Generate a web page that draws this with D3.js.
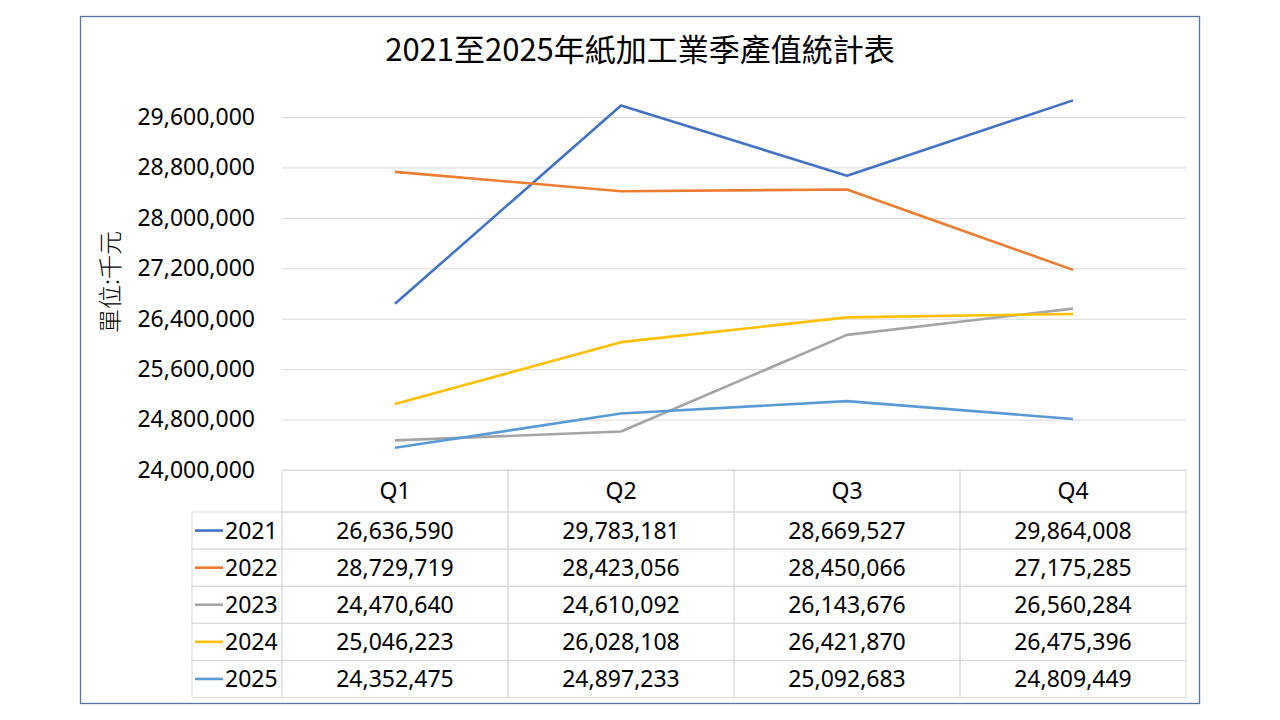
<!DOCTYPE html>
<html>
<head>
<meta charset="utf-8">
<script src="https://cdn.jsdelivr.net/npm/d3@7"></script>
<style>
  body { margin: 0; background: #fff; }
  text { font-family: "Noto Sans", "Noto Sans CJK TC", sans-serif; fill: #000; }
  .cjk { font-family: "Noto Sans CJK TC", "Noto Sans", sans-serif; }
</style>
</head>
<body>
<svg id="chart"></svg>
<script>
// chart data
var quarters = ["Q1", "Q2", "Q3", "Q4"]
var years = ["2021", "2022", "2023", "2024", "2025"]
var v2021 = [26636590, 29783181, 28669527, 29864008]
var v2022 = [28729719, 28423056, 28450066, 27175285]
var v2023 = [24470640, 24610092, 26143676, 26560284]
var v2024 = [25046223, 26028108, 26421870, 26475396]
var v2025 = [24352475, 24897233, 25092683, 24809449]
var yTicks = [24000000, 24800000, 25600000, 26400000, 27200000, 28000000, 28800000, 29600000]
var colors = ["#4472C4", "#ED7D31", "#A5A5A5", "#FFC000", "#5B9BD5"]

var series = [v2021, v2022, v2023, v2024, v2025].map(function(vals, i) {
    return {year: years[i], values: vals, color: colors[i]}
})

var screen = {width: 1280, height: 720}
var plot = {left: 282, right: 1186, top: 66.6, bottom: 470}
var table = {legendLeft: 192, headerH: 42, rowH: 37.1}

var svg = d3.select("#chart")
    .attr("width", screen.width)
    .attr("height", screen.height)

// outer frame
svg.append("rect")
    .attr("x", 80.5).attr("y", 16.5)
    .attr("width", 1119).attr("height", 687)
    .attr("fill", "#fff")
    .attr("stroke", "#5677a6")
    .attr("stroke-width", 1.3)

var xScale = d3.scaleBand()
    .domain(quarters)
    .range([plot.left, plot.right])
    .padding(0)

var yScale = d3.scaleLinear()
    .domain([24000000, 30400000])
    .range([plot.bottom, plot.top])

var fmt = d3.format(",")

// gridlines + y labels
var yAxis = d3.axisLeft(yScale)
    .tickValues(yTicks)
    .tickSize(-(plot.right - plot.left))
    .tickFormat(fmt)
    .tickPadding(27)

var ax = svg.append("g")
    .attr("transform", "translate(" + plot.left + ",0)")
    .call(yAxis)
ax.select(".domain").remove()
ax.selectAll(".tick line").attr("stroke", "#d9d9d9").attr("stroke-width", 1)
ax.selectAll(".tick text")
    .style("font-family", "'Noto Sans', sans-serif")
    .style("font-size", "23px")
    .attr("fill", "#000")

// title
svg.append("text")
    .classed("cjk", true)
    .attr("x", 640).attr("y", 61)
    .attr("text-anchor", "middle")
    .style("font-size", "31px")
    .text("2021至2025年紙加工業季產值統計表")

// y label
svg.append("text")
    .classed("cjk", true)
    .attr("transform", "translate(119,282) rotate(-90)")
    .attr("text-anchor", "middle")
    .style("font-size", "24px")
    .style("font-weight", "300")
    .attr("fill", "#404040")
    .text("單位:千元")

// lines
var lineGenerator = d3.line()
    .x(function(d, i) { return xScale(quarters[i]) + xScale.bandwidth() / 2 })
    .y(function(d) { return yScale(d) })

svg.append("g")
    .selectAll("path")
    .data(series)
    .enter()
    .append("path")
    .attr("fill", "none")
    .attr("stroke", function(s) { return s.color })
    .attr("stroke-width", 2.6)
    .attr("stroke-linejoin", "round")
    .attr("d", function(s) { return lineGenerator(s.values) })

// data table
var tbl = svg.append("g")
var gridColor = "#d9d9d9"
var rowsTop = plot.bottom + table.headerH

// header cells
tbl.selectAll(".hcell")
    .data(quarters)
    .enter()
    .append("rect")
    .attr("x", function(q) { return xScale(q) })
    .attr("y", plot.bottom)
    .attr("width", xScale.bandwidth())
    .attr("height", table.headerH)
    .attr("fill", "none")
    .attr("stroke", gridColor)

tbl.selectAll(".htext")
    .data(quarters)
    .enter()
    .append("text")
    .attr("x", function(q) { return xScale(q) + xScale.bandwidth() / 2 })
    .attr("y", plot.bottom + table.headerH / 2)
    .attr("dy", "0.35em")
    .attr("text-anchor", "middle")
    .style("font-size", "23px")
    .text(function(q) { return q })

var rows = tbl.selectAll(".row")
    .data(series)
    .enter()
    .append("g")
    .attr("transform", function(s, i) { return "translate(0," + (rowsTop + i * table.rowH) + ")" })

rows.append("rect")
    .attr("x", table.legendLeft)
    .attr("width", plot.left - table.legendLeft)
    .attr("height", table.rowH)
    .attr("fill", "none")
    .attr("stroke", gridColor)

rows.selectAll(".cell")
    .data(function(s) { return s.values.map(function(v, j) { return {q: quarters[j], v: v} }) })
    .enter()
    .append("rect")
    .attr("x", function(d) { return xScale(d.q) })
    .attr("width", xScale.bandwidth())
    .attr("height", table.rowH)
    .attr("fill", "none")
    .attr("stroke", gridColor)

rows.selectAll(".val")
    .data(function(s) { return s.values.map(function(v, j) { return {q: quarters[j], v: v} }) })
    .enter()
    .append("text")
    .attr("x", function(d) { return xScale(d.q) + xScale.bandwidth() / 2 })
    .attr("y", table.rowH / 2)
    .attr("dy", "0.35em")
    .attr("text-anchor", "middle")
    .style("font-size", "23px")
    .text(function(d) { return fmt(d.v) })

// legend keys
rows.append("line")
    .attr("x1", 195).attr("x2", 223)
    .attr("y1", table.rowH / 2).attr("y2", table.rowH / 2)
    .attr("stroke", function(s) { return s.color })
    .attr("stroke-width", 2.6)

rows.append("text")
    .attr("x", 225)
    .attr("y", table.rowH / 2)
    .attr("dy", "0.35em")
    .style("font-size", "23px")
    .text(function(s) { return s.year })
</script>
</body>
</html>
